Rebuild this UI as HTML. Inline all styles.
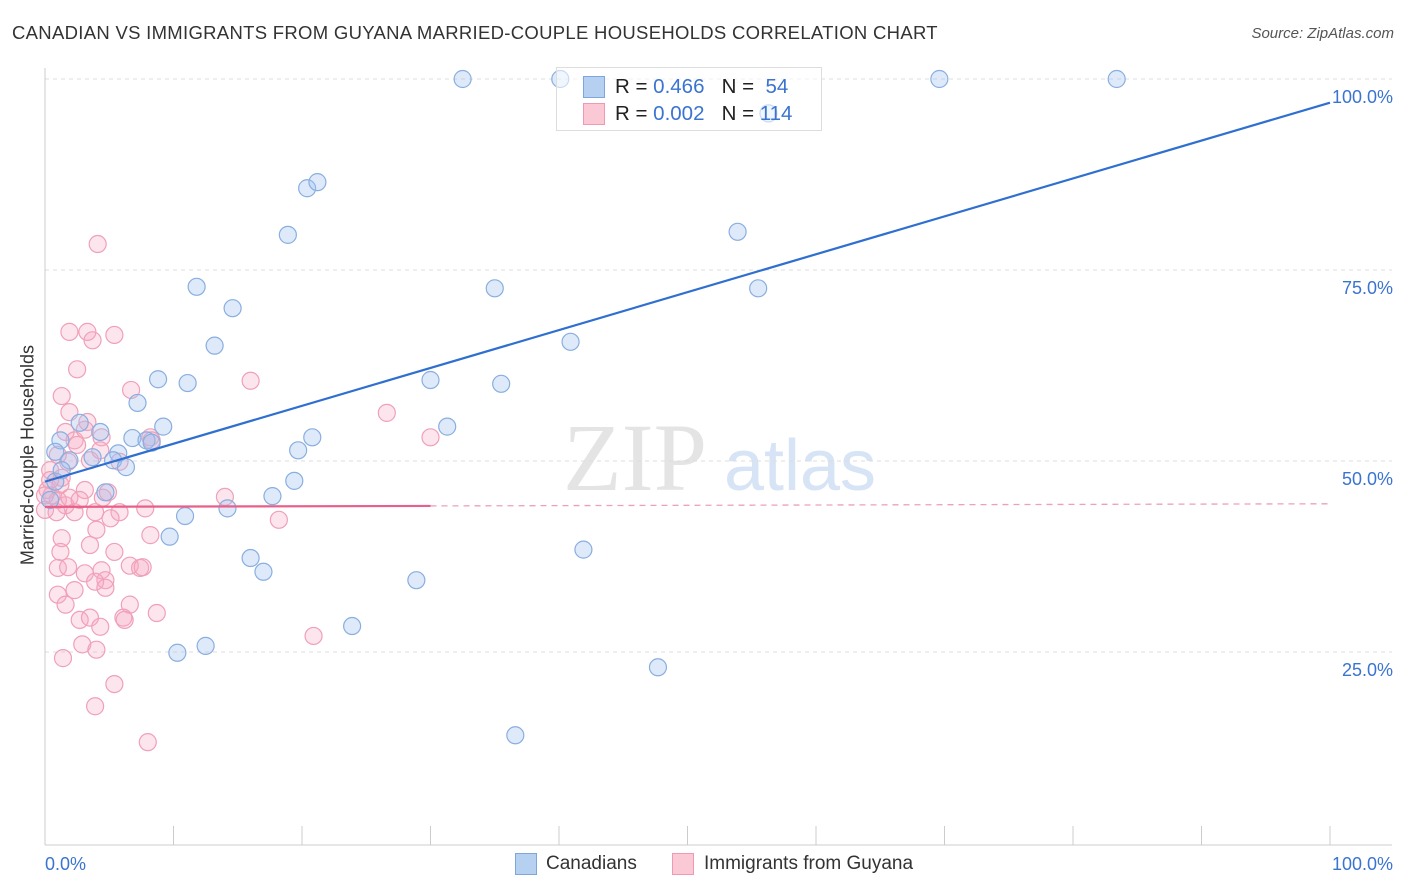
<!DOCTYPE html>
<html><head><meta charset="utf-8"><style>
body{margin:0;background:#fff;font-family:"Liberation Sans",sans-serif;}
#wrap{position:relative;width:1406px;height:892px;overflow:hidden;}
.t{position:absolute;white-space:nowrap;}
</style></head><body>
<div id="wrap">
<div class="t" style="left:12px;top:22px;font-size:18.5px;color:#333;letter-spacing:0.3px">CANADIAN VS IMMIGRANTS FROM GUYANA MARRIED-COUPLE HOUSEHOLDS CORRELATION CHART</div>
<div class="t" style="right:12px;top:25px;font-size:15px;color:#555;font-style:italic">Source: ZipAtlas.com</div>
<svg id="svg" width="1406" height="892" style="position:absolute;left:0;top:0">
<text x="635" y="490" font-size="96" fill="#e4e4e4" font-family="Liberation Serif,serif" text-anchor="middle">ZIP</text>
<text x="800" y="490" font-size="72" fill="#d6e4f5" text-anchor="middle">atlas</text>
</svg>
<div class="t" style="top:455px;transform:translate(-50%,-50%) rotate(-90deg);transform-origin:center;font-size:18px;color:#333;left:28px">Married-couple Households</div>
<div style="position:absolute;left:556px;top:67px;width:264px;height:62px;border:1px solid #ddd;background:rgba(255,255,255,0.55)">
<div style="position:absolute;left:26px;top:8px;width:20px;height:20px;background:#b6d0f2;border:1px solid #7ea6dc"></div>
<div class="t" style="left:58px;top:7px;font-size:20.5px;color:#222">R = <span style="color:#3a74d0">0.466</span>&nbsp;&nbsp;&nbsp;N = <span style="color:#3a74d0">&nbsp;54</span></div>
<div style="position:absolute;left:26px;top:35px;width:20px;height:20px;background:#fbc9d6;border:1px solid #ee9ab2"></div>
<div class="t" style="left:58px;top:34px;font-size:20.5px;color:#222">R = <span style="color:#3a74d0">0.002</span>&nbsp;&nbsp;&nbsp;N = <span style="color:#3a74d0">114</span></div>
</div>
<div style="position:absolute;left:515px;top:853px;width:20px;height:20px;background:#b6d0f2;border:1px solid #7ea6dc"></div>
<div class="t" style="left:546px;top:853px;font-size:19px;color:#333">Canadians</div>
<div style="position:absolute;left:672px;top:853px;width:20px;height:20px;background:#fbc9d6;border:1px solid #ee9ab2"></div>
<div class="t" style="left:704px;top:853px;font-size:19px;color:#333">Immigrants from Guyana</div>
</div>
<script>
const yTicks=[25,50,75,100];
const yTickLabels=["25.0%","50.0%","75.0%","100.0%"];
const xTickLabels=["0.0%","100.0%"];
const blueX=[32.5,40.1,69.6,83.4,20.4,21.2,18.9,53.9,11.8,35.0,14.6,55.5,13.2,40.9,8.8,11.1,30.0,35.5,7.2,9.2,31.3,20.8,19.7,4.3,6.8,7.9,8.3,2.7,1.2,5.7,3.7,5.3,6.3,0.8,19.4,17.7,4.7,14.2,10.9,9.7,16.0,17.0,41.9,28.9,23.9,12.5,10.3,47.7,36.6,0.8,1.9,56.3,0.4,1.3];
const blueY=[100,100,100,100,85.7,86.5,79.6,80.0,72.8,72.6,70.0,72.6,65.1,65.6,60.7,60.2,60.6,60.1,57.6,54.5,54.5,53.1,51.4,53.8,53.0,52.7,52.4,55.0,52.7,51.0,50.5,50.1,49.2,51.2,47.4,45.4,45.9,43.8,42.8,40.1,37.3,35.5,38.4,34.4,28.4,25.8,24.9,23.0,14.1,47.3,50.1,95.5,44.9,48.8];
const pinkX=[4.1,1.9,3.3,3.7,5.4,2.5,16.0,6.7,1.3,26.6,30.0,1.9,3.3,1.6,2.3,4.4,8.2,8.3,1.0,1.8,3.5,5.8,0.4,1.3,0.2,0.5,1.0,1.6,0,0.9,1.9,2.3,3.1,3.9,4.5,4.9,5.8,5.1,7.8,8.2,14.0,18.2,4.0,1.3,3.5,1.2,5.4,1.0,1.8,3.1,4.4,6.6,7.4,7.6,4.7,3.9,2.3,1.0,4.7,1.6,6.6,8.7,6.1,6.2,2.7,3.5,4.3,20.9,2.9,4.0,1.4,5.4,3.9,8.0,3.1,4.3,2.5,1.2,0.4,0,2.7];
const pinkY=[78.4,66.9,66.9,65.8,66.5,62.0,60.5,59.3,58.5,56.3,53.1,56.4,55.1,53.8,52.7,53.1,53.1,52.7,50.8,49.9,50.1,49.9,48.8,47.8,46.2,45.5,44.9,44.2,43.6,43.3,45.2,43.3,46.2,43.3,45.2,45.9,43.3,42.5,43.8,40.3,45.3,42.3,41.0,39.9,39.0,38.1,38.1,36.0,36.1,35.3,35.7,36.3,36.0,36.1,34.4,34.2,33.1,32.5,33.4,31.2,31.2,30.1,29.5,29.2,29.2,29.5,28.3,27.1,26.0,25.3,24.2,20.8,17.9,13.2,54.1,51.4,52.1,46.9,47.5,45.5,44.9];
const blueLine=[47.3,96.9];
const pinkLine=[44.0,44.4];
const pinkSolidEnd=30;
const X0=45,X1=1330,Y0=843,Y100=79;
const sx=v=>X0+(X1-X0)*v/100, sy=v=>Y0-(Y0-Y100)*v/100;
const svg=document.getElementById('svg'),NS='http://www.w3.org/2000/svg';
function mk(tag,attrs,name){const e=document.createElementNS(NS,tag);for(const k in attrs)e.setAttribute(k,attrs[k]);


svg.appendChild(e);return e;}
yTicks.forEach((t,i)=>{mk('line',{x1:X0,x2:1392,y1:sy(t),y2:sy(t),stroke:'#ddd','stroke-dasharray':'4,4'},'gridline');
const tx=mk('text',{x:1393,y:sy(t)+24,'text-anchor':'end','font-size':18,fill:'#3a74d0'},'y-tick-label');tx.textContent=yTickLabels[i];});
mk('line',{x1:X0,x2:X0,y1:68,y2:Y0+2,stroke:'#ccc'},'y-axis-line');
mk('line',{x1:X0,x2:1392,y1:Y0+2,y2:Y0+2,stroke:'#ccc'},'x-axis-line');
for(let i=1;i<=10;i++){mk('line',{x1:sx(i*10),x2:sx(i*10),y1:826,y2:Y0+2,stroke:'#ccc'},'x-tick');}
let a=mk('text',{x:45,y:870,'font-size':18,fill:'#3a74d0'},'x-tick-label-start');a.textContent=xTickLabels[0];
a=mk('text',{x:1393,y:870,'text-anchor':'end','font-size':18,fill:'#3a74d0'},'x-tick-label-end');a.textContent=xTickLabels[1];
pinkX.forEach((x,i)=>mk('circle',{cx:sx(x),cy:sy(pinkY[i]),r:8.5,fill:'rgba(248,170,195,0.3)',stroke:'#f0a0b8','stroke-width':1.2},'point-guyana'));
blueX.forEach((x,i)=>mk('circle',{cx:sx(x),cy:sy(blueY[i]),r:8.5,fill:'rgba(160,195,240,0.35)',stroke:'#89aee0','stroke-width':1.2},'point-canadians'));
mk('line',{x1:sx(0),y1:sy(blueLine[0]),x2:sx(100),y2:sy(blueLine[1]),stroke:'#2f6fd0','stroke-width':2.2},'trendline-canadians');
const pAt=x=>pinkLine[0]+(pinkLine[1]-pinkLine[0])*x/100;
mk('line',{x1:sx(0),y1:sy(pAt(0)),x2:sx(pinkSolidEnd),y2:sy(pAt(pinkSolidEnd)),stroke:'#e8608a','stroke-width':2.2},'trendline-guyana');
mk('line',{x1:sx(pinkSolidEnd),y1:sy(pAt(pinkSolidEnd)),x2:sx(100),y2:sy(pAt(100)),stroke:'#eda0b6','stroke-width':1.3,'stroke-dasharray':'6,5'},'trendline-guyana-extension');
</script>
</body></html>
